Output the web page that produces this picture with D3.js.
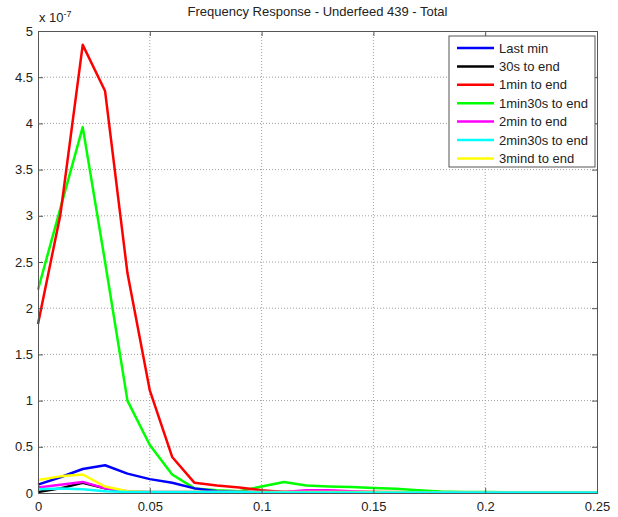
<!DOCTYPE html>
<html><head><meta charset="utf-8">
<script src="https://cdn.jsdelivr.net/npm/d3@7"></script>
<style>body{margin:0;background:#fff}text{font-family:"Liberation Sans",Arial,sans-serif}</style>
</head><body><svg id="c" width="618" height="517"></svg>
<script>
const freq = d3.range(26).map(i => +(i*0.01).toFixed(2));
const seriesNames = ["Last min","30s to end","1min to end","1min30s to end","2min to end","2min30s to end","3mind to end"];
const seriesColors = ["#0000ff","#000000","#ff0000","#00ff00","#ff00ff","#00ffff","#ffff00"];
const lastMin   = [0.09,0.17,0.26,0.30,0.21,0.15,0.11,0.05,0.02,0.01,0.01,0.01,0.005,0.005,0.005,0.005,0.005,0.005,0.005,0.005,0.005,0.005,0.005,0.005,0.005,0.005];
const s30       = [0.01,0.05,0.11,0.05,0.01,0.005,0.005,0.005,0.005,0.005,0.005,0.005,0.005,0.005,0.005,0.005,0.005,0.005,0.005,0.005,0.005,0.005,0.005,0.005,0.005,0.005];
const min1      = [1.83,3.01,4.85,4.35,2.38,1.11,0.39,0.11,0.08,0.06,0.03,0.01,0.01,0.01,0.01,0.01,0.005,0.005,0.005,0.005,0.005,0.005,0.005,0.005,0.005,0.005];
const min1_30   = [2.20,3.08,3.96,2.50,1.00,0.52,0.20,0.05,0.03,0.02,0.07,0.12,0.08,0.07,0.065,0.055,0.045,0.03,0.015,0.01,0.01,0.008,0.006,0.005,0.005,0.005];
const min2      = [0.06,0.09,0.12,0.05,0.02,0.01,0.01,0.01,0.01,0.01,0.01,0.01,0.03,0.03,0.02,0.01,0.01,0.005,0.005,0.005,0.005,0.005,0.005,0.005,0.005,0.005];
const min2_30   = [0.04,0.05,0.04,0.02,0.01,0.01,0.01,0.01,0.01,0.01,0.005,0.005,0.005,0.005,0.005,0.005,0.005,0.005,0.005,0.005,0.005,0.005,0.005,0.005,0.005,0.005];
const min3      = [0.14,0.18,0.20,0.07,0.02,0.01,0.01,0.01,0.01,0.01,0.01,0.01,0.01,0.01,0.01,0.01,0.01,0.005,0.005,0.005,0.005,0.005,0.005,0.005,0.005,0.005];
const xTicks = [0,0.05,0.1,0.15,0.2,0.25];
const yTicks = [0,0.5,1,1.5,2,2.5,3,3.5,4,4.5,5];
const allSeries = [lastMin,s30,min1,min1_30,min2,min2_30,min3];
const drawOrder = [3,2,0,1,4,6,5];

const svg = d3.select("#c");
const L=38,R=597,T=31,B=493;
const FS=13;
const x = d3.scaleLinear().domain([0,0.25]).range([L,R]);
const y = d3.scaleLinear().domain([0,5]).range([B,T]);

// grid
const g = svg.append("g");
g.selectAll(".gx").data(xTicks.slice(1,-1)).enter().append("line")
  .attr("x1",d=>x(d)).attr("x2",d=>x(d)).attr("y1",T).attr("y2",B)
  .attr("stroke","#a0a0a0").attr("stroke-width",1).attr("stroke-dasharray","1,2");
g.selectAll(".gy").data(yTicks.slice(1,-1)).enter().append("line")
  .attr("y1",d=>y(d)).attr("y2",d=>y(d)).attr("x1",L).attr("x2",R)
  .attr("stroke","#a0a0a0").attr("stroke-width",1).attr("stroke-dasharray","1,2");

// lines
const line = d3.line().x((d,i)=>x(freq[i])).y(d=>y(d));
drawOrder.forEach(k=>{
  svg.append("path").datum(allSeries[k]).attr("d",line)
    .attr("fill","none").attr("stroke",seriesColors[k]).attr("stroke-width",2.5)
    .attr("stroke-linejoin","round");
});

// axes
svg.append("g").attr("transform",`translate(0,${B})`)
  .call(d3.axisBottom(x).tickValues(xTicks).tickSize(-5).tickPadding(9).tickFormat(d=>d3.format("")(d)));
svg.append("g").attr("transform",`translate(${L},0)`)
  .call(d3.axisLeft(y).tickValues(yTicks).tickSize(-5).tickPadding(5).tickFormat(d=>d3.format("")(d)));
svg.append("g").attr("transform",`translate(0,${T})`)
  .call(d3.axisTop(x).tickValues(xTicks).tickSize(-5).tickFormat(""));
svg.append("g").attr("transform",`translate(${R},0)`)
  .call(d3.axisRight(y).tickValues(yTicks).tickSize(-5).tickFormat(""));
svg.selectAll(".domain").attr("stroke","#555");
svg.selectAll(".tick line").attr("stroke","#555");
svg.selectAll(".tick text").attr("font-size",FS).attr("fill","#222").attr("font-family","Liberation Sans, Arial, sans-serif");

// exponent label
const ex = svg.append("text").attr("x",39).attr("y",22).attr("font-size",FS).attr("fill","#222");
ex.append("tspan").text("x 10");
ex.append("tspan").attr("dy",-5).attr("font-size",9).text("-7");

// title
svg.append("text").attr("x",(L+R)/2).attr("y",16).attr("text-anchor","middle")
  .attr("font-size",FS).attr("fill","#222").text("Frequency Response - Underfeed 439 - Total");

// legend
const lg = svg.append("g");
lg.append("rect").attr("x",449).attr("y",36).attr("width",146).attr("height",131)
  .attr("fill","#fff").attr("stroke","#555").attr("stroke-width",1);
seriesNames.forEach((n,i)=>{
  const yy = 48 + i*18.4;
  lg.append("line").attr("x1",457).attr("x2",494).attr("y1",yy).attr("y2",yy)
    .attr("stroke",seriesColors[i]).attr("stroke-width",2.5);
  lg.append("text").attr("x",499).attr("y",yy+4.5).attr("font-size",FS).attr("fill","#222").text(n);
});
</script></body></html>
